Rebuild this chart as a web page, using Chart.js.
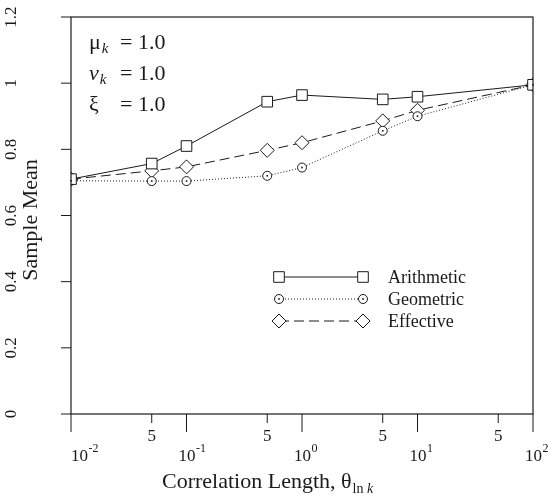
<!DOCTYPE html>
<html>
<head>
<meta charset="utf-8">
<script src="https://cdn.jsdelivr.net/npm/chart.js@4/dist/chart.umd.min.js"></script>
<style>
  html, body { margin: 0; padding: 0; background: #fff; }
</style>
</head>
<body>
<canvas id="myChart" width="548" height="499"></canvas>
<script>
'use strict';

// data
let lengths = [0.01, 0.05, 0.1, 0.5, 1, 5, 10, 100];
let arithmetic = [0.710, 0.757, 0.810, 0.944, 0.964, 0.951, 0.959, 0.995];
let geometric = [0.705, 0.704, 0.704, 0.720, 0.745, 0.856, 0.900, 0.995];
let effective = [0.710, 0.735, 0.747, 0.797, 0.820, 0.886, 0.918, 0.995];
let seriesNames = ['Arithmetic', 'Geometric', 'Effective'];

let xMajor = [0.01, 0.1, 1, 10, 100];
let xMajorExp = ['-2', '-1', '0', '1', '2'];
let xMinor = [0.05, 0.5, 5, 50];
let yTicks = [0, 0.2, 0.4, 0.6, 0.8, 1, 1.2];
let yTickLabels = ['0', '0.2', '0.4', '0.6', '0.8', '1', '1.2'];

let ink = '#1a1a1a';
let serif = '"Liberation Serif", "DejaVu Serif", serif';

let toPoints = (ys) => lengths.map((x, i) => ({ x, y: ys[i] }));

let makeSet = (label, ys, style, radius, dash) => ({
  label,
  data: toPoints(ys),
  borderColor: ink,
  borderWidth: 1,
  borderDash: dash,
  backgroundColor: '#fff',
  pointStyle: style,
  pointRadius: radius,
  pointBorderWidth: 1,
  pointBorderColor: ink,
  pointBackgroundColor: '#fff',
  tension: 0,
  fill: false
});

let datasets = [
  makeSet(seriesNames[0], arithmetic, 'rect', 7.5, []),
  makeSet(seriesNames[1], geometric, 'circle', 4.5, [1, 2]),
  makeSet(seriesNames[2], effective, 'rectRot', 7, [10, 5])
];

function font(size, italic) {
  return (italic ? 'italic ' : '') + size + 'px ' + serif;
}

// small dot in the middle of the circle markers
let circleDots = {
  id: 'circleDots',
  afterDatasetsDraw(chart) {
    let ctx = chart.ctx;
    let meta = chart.getDatasetMeta(1);
    ctx.save();
    ctx.fillStyle = ink;
    meta.data.forEach(p => ctx.fillRect(p.x - 0.8, p.y - 0.8, 1.6, 1.6));
    ctx.restore();
  }
};

// box, ticks, labels, titles, notes and legend
let frame = {
  id: 'frame',
  afterDraw(chart) {
    let ctx = chart.ctx;
    let a = chart.chartArea;
    let xs = chart.scales.x;
    let ys = chart.scales.y;
    ctx.save();
    ctx.strokeStyle = ink;
    ctx.fillStyle = ink;
    ctx.lineWidth = 1.2;
    ctx.strokeRect(a.left, a.top, a.right - a.left, a.bottom - a.top);

    // y ticks
    ctx.lineWidth = 1;
    yTicks.forEach((v, i) => {
      let y = ys.getPixelForValue(v);
      ctx.beginPath();
      ctx.moveTo(a.left - 10, y);
      ctx.lineTo(a.left, y);
      ctx.stroke();
      ctx.save();
      ctx.translate(12, y);
      ctx.rotate(-Math.PI / 2);
      ctx.font = font(17);
      ctx.textAlign = 'center';
      ctx.textBaseline = 'middle';
      ctx.fillText(yTickLabels[i], 0, 0);
      ctx.restore();
    });

    // x ticks
    xMajor.forEach((v, i) => {
      let x = xs.getPixelForValue(v);
      ctx.beginPath();
      ctx.moveTo(x, a.bottom);
      ctx.lineTo(x, a.bottom + 18);
      ctx.stroke();
      ctx.font = font(17);
      let w10 = ctx.measureText('10').width;
      let x0 = Math.max(x - 8, a.left);
      ctx.textAlign = 'left';
      ctx.textBaseline = 'alphabetic';
      ctx.fillText('10', x0, 461);
      ctx.font = font(12);
      ctx.fillText(xMajorExp[i], x0 + w10 + 0.5, 452);
    });
    xMinor.forEach(v => {
      let x = xs.getPixelForValue(v);
      ctx.beginPath();
      ctx.moveTo(x, a.bottom);
      ctx.lineTo(x, a.bottom + 9);
      ctx.stroke();
      ctx.font = font(17);
      ctx.textAlign = 'center';
      ctx.textBaseline = 'alphabetic';
      ctx.fillText('5', x, 441);
    });

    // axis titles
    ctx.save();
    ctx.translate(31, 220);
    ctx.rotate(-Math.PI / 2);
    ctx.font = font(22);
    ctx.textAlign = 'center';
    ctx.textBaseline = 'middle';
    ctx.fillText('Sample Mean', 0, 0);
    ctx.restore();

    let main = 'Correlation Length, θ';
    ctx.font = font(22);
    let wMain = ctx.measureText(main).width;
    ctx.font = font(14);
    let wLn = ctx.measureText('ln ').width;
    let tx = 162;
    ctx.textAlign = 'left';
    ctx.textBaseline = 'alphabetic';
    ctx.font = font(22);
    ctx.fillText(main, tx, 488);
    ctx.font = font(14);
    ctx.fillText('ln ', tx + wMain + 1, 493);
    ctx.font = font(14, true);
    ctx.fillText('k', tx + wMain + 1 + wLn, 493);

    // parameter notes
    let notes = [['μ', 'k', 49, false], ['ν', 'k', 80, true], ['ξ', '', 111, false]];
    notes.forEach(n => {
      ctx.font = font(22, n[3]);
      ctx.fillText(n[0], 89, n[2]);
      let w = ctx.measureText(n[0]).width;
      if (n[1]) {
        ctx.font = font(15, true);
        ctx.fillText(n[1], 89 + w + 1, n[2] + 4);
      }
      ctx.font = font(22);
      ctx.fillText('= 1.0', 120, n[2]);
    });

    // legend
    let rows = [277, 299, 321];
    chart.data.datasets.forEach((ds, i) => {
      let y = rows[i];
      ctx.save();
      ctx.lineWidth = ds.borderWidth;
      ctx.setLineDash(ds.borderDash);
      ctx.beginPath();
      ctx.moveTo(279, y);
      ctx.lineTo(363, y);
      ctx.stroke();
      ctx.setLineDash([]);
      ctx.fillStyle = '#fff';
      [279, 363].forEach(px => {
        Chart.helpers.drawPoint(ctx, {
          pointStyle: ds.pointStyle, radius: ds.pointRadius, rotation: 0, borderWidth: 1
        }, px, y);
        if (i === 1) {
          ctx.fillStyle = ink;
          ctx.fillRect(px - 0.8, y - 0.8, 1.6, 1.6);
          ctx.fillStyle = '#fff';
        }
      });
      ctx.restore();
      ctx.font = font(18);
      ctx.textAlign = 'left';
      ctx.textBaseline = 'middle';
      ctx.fillText(ds.label, 388, y + 1);
    });
    ctx.restore();
  }
};

let chartContext = document.getElementById('myChart').getContext('2d');
let myChart = new Chart(chartContext, {
  type: 'line',
  data: { datasets },
  options: {
    responsive: false,
    animation: false,
    layout: { padding: { left: 71, top: 17, right: 15, bottom: 85 } },
    plugins: { legend: { display: false }, tooltip: { enabled: false } },
    scales: {
      x: { type: 'logarithmic', min: 0.01, max: 100, display: false },
      y: { type: 'linear', min: 0, max: 1.2, display: false }
    }
  },
  plugins: [circleDots, frame]
});
</script>
</body>
</html>
